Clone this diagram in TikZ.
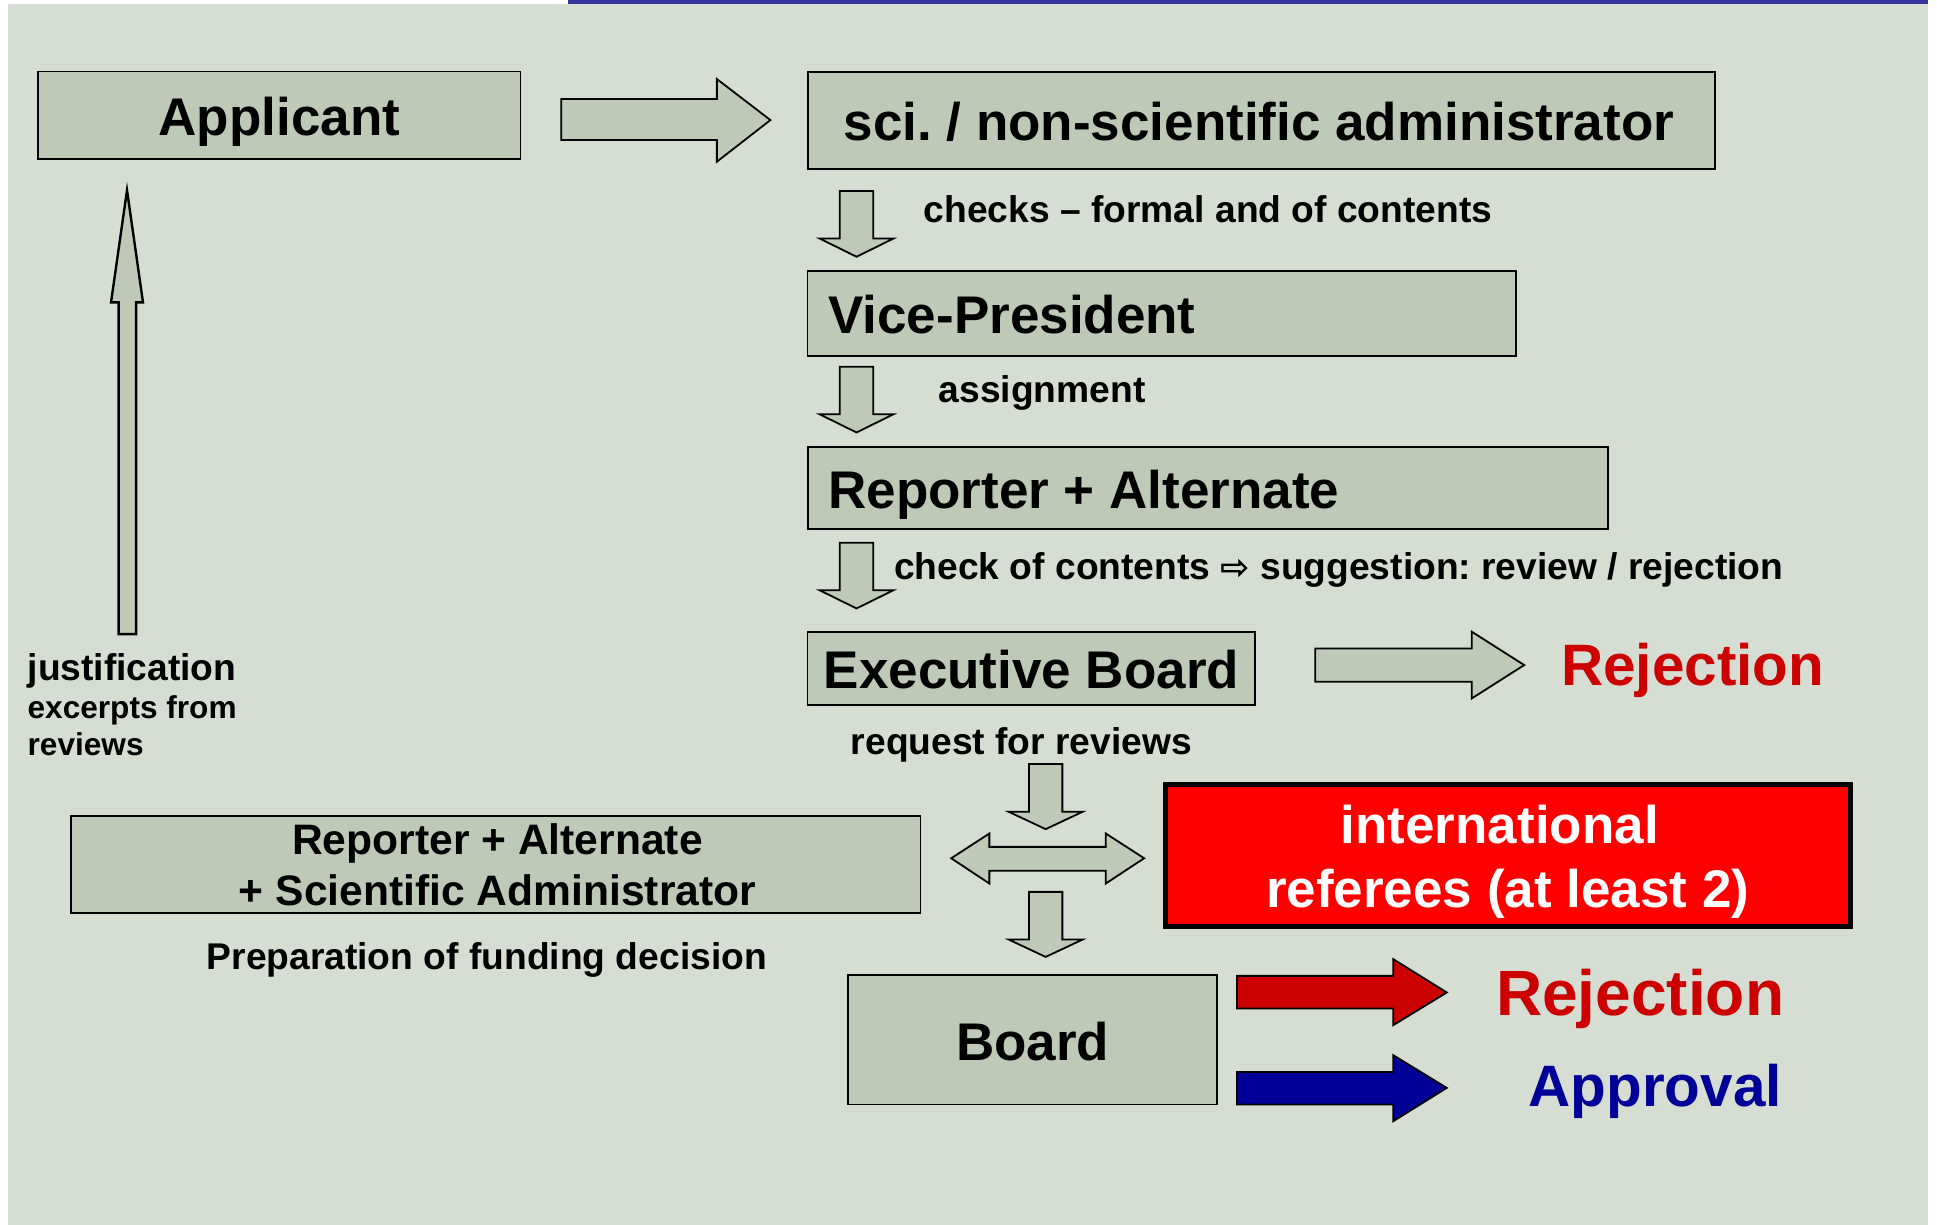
\documentclass[tikz,border=0pt]{standalone}
\usepackage{fontspec}
\setmainfont{Liberation Sans}
\newfontfamily\arrowfont{DejaVu Sans}
\definecolor{bgpanel}{RGB}{214,222,211}
\definecolor{boxfill}{RGB}{190,201,184}
\definecolor{rejred}{RGB}{204,0,0}
\definecolor{appblue}{RGB}{0,0,153}
\definecolor{topblue}{RGB}{51,51,153}
\begin{document}
\frenchspacing
\begin{tikzpicture}[x=0.6196pt,y=-0.6196pt,line join=miter,
	box/.style={draw=black,line width=0.9pt,fill=boxfill,inner sep=0pt,text height=20.2pt,text depth=0pt,font=\fontsize{26.5}{32}\selectfont\bfseries},
	leftbox/.style={box,inner xsep=#1},
	blockarrow/.style={draw=black,line width=0.9pt,fill=boxfill},
	smalltext/.style={inner sep=0pt,anchor=base west,font=\fontsize{18.6}{19}\selectfont\bfseries},
	tinytext/.style={inner sep=0pt,anchor=base west,font=\fontsize{15.8}{16}\selectfont\bfseries},
	midtext/.style={inner sep=0pt,anchor=base,font=\fontsize{21.3}{25}\selectfont\bfseries},
	verdict/.style={inner sep=0pt,anchor=base west,font=\fontsize{#1}{#1}\selectfont\bfseries}]
	\useasboundingbox (0,0) rectangle (1563.1,988.5);
	\fill[white] (0,0) rectangle (1563.1,988.5);
	\fill[bgpanel] (6.2,3.2) rectangle (1556,988.5);
	\fill[topblue] (458.3,0) rectangle (1556,3.2);
	% boxes
	\node[box,minimum width=241.1pt,minimum height=43.9pt] (applicant) at (225.5,93.2) {Applicant};
	\node[leftbox=18pt,minimum width=453.6pt,minimum height=48.6pt] (admin) at (1017.75,97.15) {\makebox[417.6pt][l]{sci. / non-scientific administrator}};
	\node[leftbox=10.4pt,minimum width=354.3pt,minimum height=42.4pt] (vice) at (937.6,252.9) {\makebox[333.5pt][l]{Vice-President}};
	\node[leftbox=10.4pt,minimum width=400.3pt,minimum height=40.9pt] (reporter) at (974.75,394) {\makebox[379.5pt][l]{Reporter + Alternate}};
	\node[box,minimum width=223.9pt,minimum height=36.7pt] (exec) at (832.35,539.4) {Executive Board};
	\node[box,minimum width=424.7pt,minimum height=48.5pt] (prep) at (400.15,697.45) {};
	\node[draw=black,line width=2.5pt,fill=red,minimum width=342.3pt,minimum height=70.9pt] (referees) at (1216.7,690.1) {};
	\node[box,minimum width=184.7pt,minimum height=64.6pt] (board) at (833.25,839.15) {Board};
	% texts in the two-line boxes
	\node[midtext] (prepone) at (401.5,689.4) {Reporter + Alternate};
	\node[midtext] (preptwo) at (401.5,730.6) {+ Scientific Administrator};
	\node[inner sep=0pt,anchor=base,text=white,font=\fontsize{26.5}{32}\selectfont\bfseries] (refone) at (1210.2,680.3) {international};
	\node[inner sep=0pt,anchor=base,text=white,font=\fontsize{26.5}{32}\selectfont\bfseries] (reftwo) at (1216.7,732) {referees (at least 2)};
	% labels
	\node[smalltext] (checks) at (745.2,179.9) {checks – formal and of contents};
	\node[smalltext] (assign) at (757.2,325.2) {assignment};
	\node[smalltext] (suggest) at (721.2,467.8) {check of contents {\fontsize{17.5}{17.5}\arrowfont ⇨} suggestion: review / rejection};
	\node[smalltext] (request) at (686.3,608.7) {request for reviews};
	\node[smalltext] (funding) at (166.5,782.5) {Preparation of funding decision};
	\node[smalltext] (justone) at (22,548.8) {justification};
	\node[tinytext] (justtwo) at (22,579.8) {excerpts from};
	\node[tinytext] (justthree) at (22,609.4) {reviews};
	\node[verdict=29.2,text=rejred] (rejone) at (1259.5,552.9) {Rejection};
	\node[verdict=32,text=rejred] (rejtwo) at (1207,819.2) {Rejection};
	\node[verdict=29.2,text=appblue] (approval) at (1233.3,893.2) {Approval};
	% block arrows
	\foreach \ytop in {154.2,296,438}
	\draw[blockarrow] (677.7,\ytop) -- (704.7,\ytop) -- (704.7,\ytop+38.3) -- (721,\ytop+38.3)
	-- (691.2,\ytop+53) -- (661.4,\ytop+38.3) -- (677.7,\ytop+38.3) -- cycle;
	\foreach \ytop in {616.6,719.7}
	\draw[blockarrow] (830.3,\ytop) -- (857.3,\ytop) -- (857.3,\ytop+38.5) -- (873.6,\ytop+38.5)
	-- (843.8,\ytop+52.5) -- (814,\ytop+38.5) -- (830.3,\ytop+38.5) -- cycle;
	\draw[blockarrow] (452.9,79.9) -- (578.5,79.9) -- (578.5,63.8) -- (621.7,96.9)
	-- (578.5,130.5) -- (578.5,113) -- (452.9,113) -- cycle;
	\draw[blockarrow] (1061.4,523.3) -- (1187.7,523.3) -- (1187.7,509.8) -- (1230,536.7)
	-- (1187.7,563.6) -- (1187.7,550.2) -- (1061.4,550.2) -- cycle;
	\draw[blockarrow] (767.6,692.6) -- (798.4,672.6) -- (798.4,683.4) -- (892.3,683.4) -- (892.3,672.6)
	-- (923.3,692.6) -- (892.3,713) -- (892.3,702.7) -- (798.4,702.7) -- (798.4,713) -- cycle;
	\draw[blockarrow,line width=1.2pt] (102.5,153.5) -- (115.4,244) -- (109.9,244) -- (109.9,511.7)
	-- (95.7,511.7) -- (95.7,244) -- (89.6,244) -- cycle;
	\draw[blockarrow,fill=rejred] (998.2,787.5) -- (1124.3,787.5) -- (1124.3,774) -- (1167.5,800.9)
	-- (1124.3,827.3) -- (1124.3,813.8) -- (998.2,813.8) -- cycle;
	\draw[blockarrow,fill=appblue] (998.2,865) -- (1124.3,865) -- (1124.3,851.5) -- (1167.5,877.9)
	-- (1124.3,904.8) -- (1124.3,891.3) -- (998.2,891.3) -- cycle;
\end{tikzpicture}
\end{document}
